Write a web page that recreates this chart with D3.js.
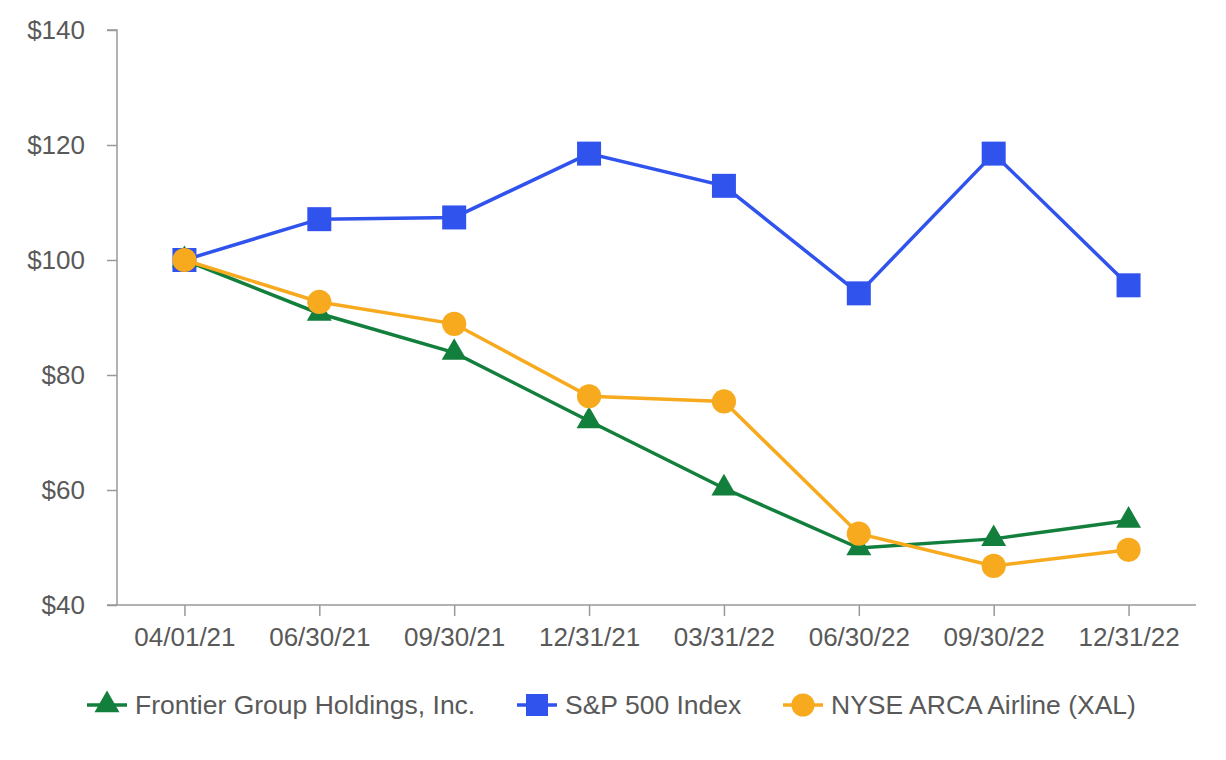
<!DOCTYPE html>
<html>
<head>
<meta charset="utf-8">
<script src="https://cdn.jsdelivr.net/npm/d3@7"></script>
<style>
  body { margin: 0; background: #fff; }
  svg text { font-family: "Liberation Sans", Arial, sans-serif; fill: #595959; }
</style>
</head>
<body>
<svg id="chart" width="1226" height="760"></svg>
<script>
const categories = ["04/01/21", "06/30/21", "09/30/21", "12/31/21", "03/31/22", "06/30/22", "09/30/22", "12/31/22"];
const frontier = [100, 90.7, 83.9, 72.0, 60.3, 49.9, 51.5, 54.7];
const sp500 = [100, 107.1, 107.4, 118.5, 112.9, 94.2, 118.5, 95.6];
const xal = [100, 92.7, 88.9, 76.3, 75.4, 52.4, 46.8, 49.6];
const yTicks = [40, 60, 80, 100, 120, 140];
const seriesNames = ["Frontier Group Holdings, Inc.", "S&P 500 Index", "NYSE ARCA Airline (XAL)"];

const colors = { frontier: "#137f3c", sp: "#3053ee", xal: "#f8aa1e" };
const svg = d3.select("#chart");

const x = d3.scalePoint().domain(categories).range([117, 1196]).padding(0.5);
const y = d3.scaleLinear().domain([40, 140]).range([605, 30]);

const axisColor = "#999999";
const fs = 26;

// Y axis
const yAxis = svg.append("g").attr("transform", "translate(117,0)")
  .call(d3.axisLeft(y).tickValues(yTicks).tickSize(10).tickPadding(22).tickFormat(d => "$" + d));
yAxis.select(".domain").attr("stroke", axisColor).attr("stroke-width", 1.5).attr("d", "M-10,30H0V605");
yAxis.selectAll(".tick line").attr("stroke", axisColor).attr("stroke-width", 1.5);
yAxis.selectAll(".tick text").style("font-size", fs + "px").attr("fill", "#595959");

// X axis
const xAxis = svg.append("g").attr("transform", "translate(0,605)")
  .call(d3.axisBottom(x).tickSize(11).tickPadding(12));
xAxis.select(".domain").attr("stroke", axisColor).attr("stroke-width", 1.5).attr("d", "M107,0H1196");
xAxis.selectAll(".tick line").attr("stroke", axisColor).attr("stroke-width", 1.5);
xAxis.selectAll(".tick text").style("font-size", fs + "px").attr("fill", "#595959");

const line = d3.line().x((d, i) => x(categories[i])).y(d => y(d));

const series = [
  { key: "frontier", values: frontier, color: colors.frontier, sym: d3.symbolTriangle, size: 270 },
  { key: "xal", values: xal, color: colors.xal, sym: d3.symbolCircle, size: 460 },
  { key: "sp", values: sp500, color: colors.sp, sym: d3.symbolSquare, size: 576 }
];

const order = [series[2], series[0], series[1]];
order.forEach(s => {
  svg.append("path").datum(s.values).attr("d", line)
    .attr("fill", "none").attr("stroke", s.color).attr("stroke-width", 3.5);
  svg.append("g").selectAll("path").data(s.values).join("path")
    .attr("transform", (d, i) => `translate(${x(categories[i])},${y(d)})`)
    .attr("d", d3.symbol().type(s.sym).size(s.size))
    .attr("fill", s.color);
});

// Legend
const legend = [
  { name: seriesNames[0], color: colors.frontier, sym: d3.symbolTriangle, size: 270, cx: 107 },
  { name: seriesNames[1], color: colors.sp, sym: d3.symbolSquare, size: 484, cx: 537 },
  { name: seriesNames[2], color: colors.xal, sym: d3.symbolCircle, size: 420, cx: 803 }
];
const ly = 705;
legend.forEach(l => {
  const g = svg.append("g");
  g.append("line").attr("x1", l.cx - 20).attr("x2", l.cx + 20).attr("y1", ly).attr("y2", ly)
    .attr("stroke", l.color).attr("stroke-width", 3.5);
  g.append("path").attr("transform", `translate(${l.cx},${ly})`)
    .attr("d", d3.symbol().type(l.sym).size(l.size)).attr("fill", l.color);
  g.append("text").attr("x", l.cx + 28).attr("y", ly).attr("dy", "0.35em")
    .style("font-size", "26.5px").text(l.name);
});
</script>
</body>
</html>
